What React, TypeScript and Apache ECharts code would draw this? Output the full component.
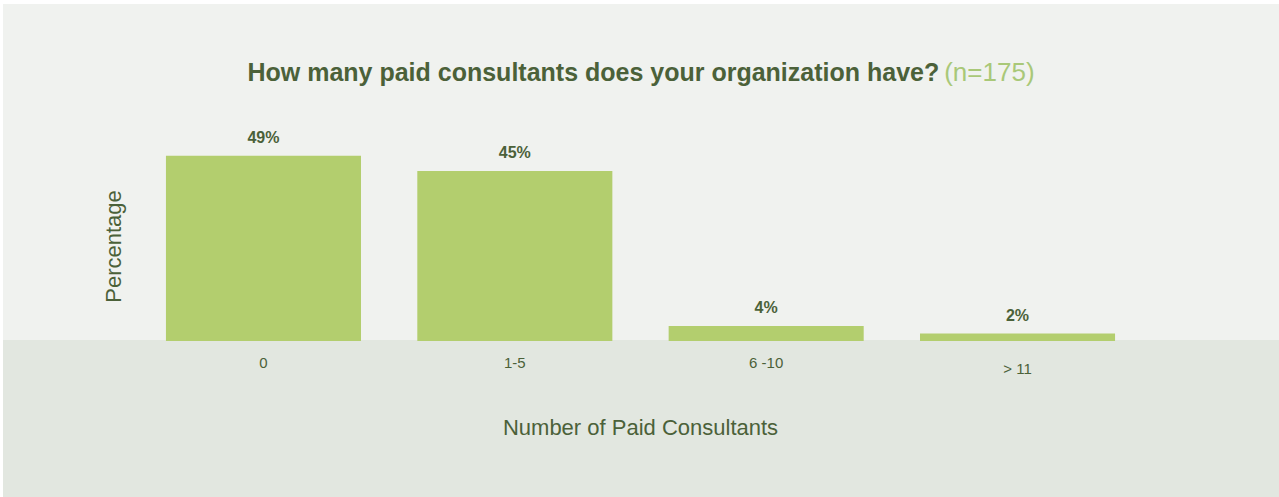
import React, { useEffect, useRef } from "react";
import * as echarts from "echarts";

const categories = ["0", "1-5", "6 -10", "> 11"];
const percentages = [49, 45, 4, 2];
const titleMain = "How many paid consultants does your organization have?";
const titleN = "(n=175)";
const xAxisName = "Number of Paid Consultants";
const yAxisName = "Percentage";

const FONT = "'Liberation Sans', Arial, Helvetica, sans-serif";
const DARK = "#4b6139";
const LIGHT = "#a9c878";
const BAR = "#b3ce6e";
const BG_TOP = "#f0f2ef";
const BG_BOTTOM = "#e2e7e0";

export default function App() {
  const ref = useRef<HTMLDivElement>(null);
  useEffect(() => {
    document.body.style.margin = "0";
    const chart = echarts.init(ref.current!, null, { renderer: "svg" });
    chart.setOption({
      animation: false,
      backgroundColor: BG_TOP,
      textStyle: { fontFamily: FONT },
      title: {
        text: `{m|${titleMain}} {n|${titleN}}`,
        left: "center",
        top: 50,
        textStyle: {
          rich: {
            m: { fontFamily: FONT, fontSize: 25, color: DARK, fontWeight: "bold" },
            n: { fontFamily: FONT, fontSize: 26, color: LIGHT, fontWeight: "normal" },
          },
        },
      },
      graphic: [
        {
          type: "rect",
          z: 0,
          left: 0,
          top: 336,
          shape: { width: 1276, height: 157 },
          style: { fill: BG_BOTTOM },
          silent: true,
        },
      ],
      grid: { left: 134.8, right: 135.8, top: 148, bottom: 156, containLabel: false },
      xAxis: {
        type: "category",
        data: categories.map((c, i) =>
          i === 3 ? { value: c, textStyle: { padding: [6, 0, 0, 0] } } : c
        ),
        axisLine: { show: false },
        axisTick: { show: false },
        axisLabel: { color: DARK, fontSize: 15, margin: 14, fontFamily: FONT },
        name: xAxisName,
        nameLocation: "middle",
        nameGap: 75,
        nameTextStyle: { color: DARK, fontSize: 22, fontFamily: FONT },
      },
      yAxis: {
        type: "value",
        min: 0,
        max: 50,
        axisLine: { show: false },
        axisTick: { show: false },
        axisLabel: { show: false },
        splitLine: { show: false },
        name: yAxisName,
        nameLocation: "middle",
        nameGap: 13,
        nameTextStyle: { color: DARK, fontSize: 22, fontFamily: FONT },
      },
      series: [
        {
          type: "bar",
          z: 2,
          data: percentages,
          barCategoryGap: "22.4%",
          itemStyle: { color: BAR },
          label: {
            show: true,
            position: "top",
            distance: 10,
            formatter: "{c}%",
            color: DARK,
            fontWeight: "bold",
            fontSize: 16,
            fontFamily: FONT,
          },
        },
      ],
    });
    return () => chart.dispose();
  }, []);
  return (
    <div
      ref={ref}
      style={{ position: "absolute", left: 3, top: 4, width: 1276, height: 493 }}
    />
  );
}
